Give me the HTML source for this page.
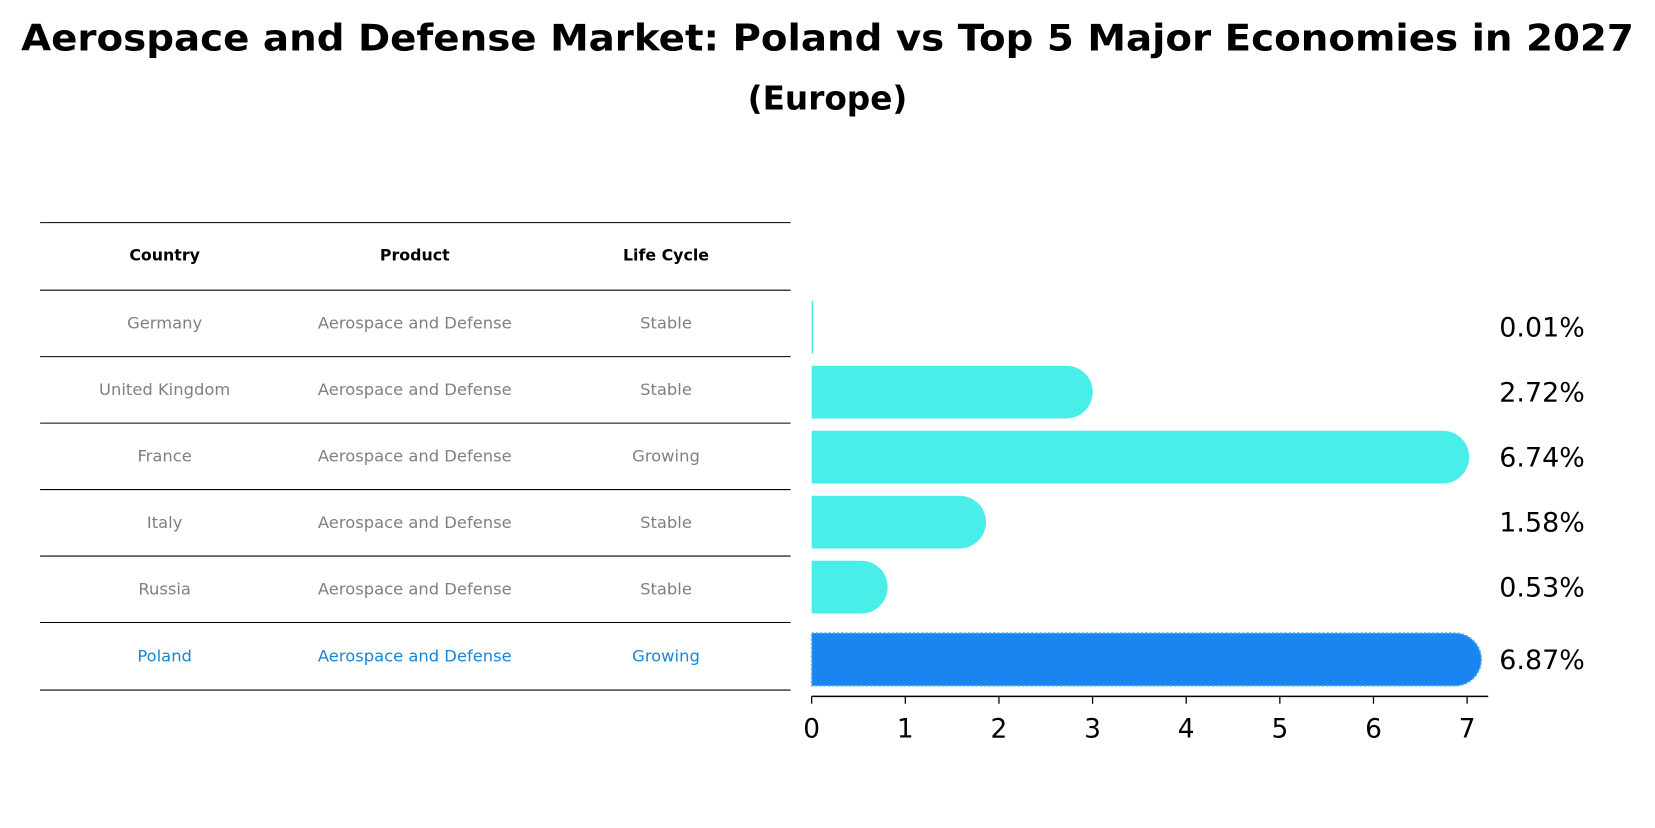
<!DOCTYPE html>
<html><head><meta charset="utf-8"><style>
body{margin:0;background:#fff;font-family:"Liberation Sans","DejaVu Sans",sans-serif;}
svg text{font-family:"DejaVu Sans","Liberation Sans",sans-serif;}
</style></head><body>
<svg id="c" width="1655" height="823" viewBox="0 0 1568 780" preserveAspectRatio="none" xmlns="http://www.w3.org/2000/svg">
<text x="784" y="48" text-anchor="middle" font-size="35" font-weight="bold" textLength="1528" lengthAdjust="spacingAndGlyphs">Aerospace and Defense Market: Poland vs Top 5 Major Economies in 2027</text>
<text x="784" y="104" text-anchor="middle" font-size="31" font-weight="bold">(Europe)</text>
<g id="table"></g>
<g id="bars"></g>
</svg>
<script>
const countries=["Germany","United Kingdom","France","Italy","Russia","Poland"];
const products=["Aerospace and Defense","Aerospace and Defense","Aerospace and Defense","Aerospace and Defense","Aerospace and Defense","Aerospace and Defense"];
const lifeCycles=["Stable","Stable","Growing","Stable","Stable","Growing"];
const values=[0.01,2.72,6.74,1.58,0.53,6.87];
const labels=["0.01%","2.72%","6.74%","1.58%","0.53%","6.87%"];
const ticks=[0,1,2,3,4,5,6,7];
const NS="http://www.w3.org/2000/svg";
function mk(t,a,p){const e=document.createElementNS(NS,t);for(const k in a)e.setAttribute(k,a[k]);p.appendChild(e);return e;}
const x=v=>769+v*(1390-769)/7;
const rowY=i=>310+i*61.6;
const tb=document.getElementById('table');
const lineYs=[211,275,338,401,464,527,590,654];
lineYs.forEach(y=>{const l=mk('line',{x1:38,x2:749,y1:y,y2:y,stroke:'#000','stroke-width':1},tb);

});
const colX=[156,393,631];
["Country","Product","Life Cycle"].forEach((h,j)=>{const t=mk('text',{x:colX[j],y:247,'text-anchor':'middle','font-size':15,'font-weight':'bold'},tb);t.textContent=h;

});
countries.forEach((c,i)=>{const y=(lineYs[i+1]+lineYs[i+2])/2+5;const col=i===5?'#1a85d8':'#808080';
[c,products[i],lifeCycles[i]].forEach((s,j)=>{const t=mk('text',{x:colX[j],y:y,'text-anchor':'middle','font-size':15.5,fill:col},tb);t.textContent=s;

});});
const bg=document.getElementById('bars');
const h=50,r=25;
values.forEach((v,i)=>{const cy=rowY(i)+(i===5?7:0);const x0=x(0),x1=x(v);const col=i===5?'#1a85f0':'#4aeee8';
const top=cy-h/2;
let d;
if(v<0.05){d=`M${x0},${top}h1.5v${h}h-1.5z`;}
else d=`M${x0},${top}H${x1}A${r},${r} 0 0 1 ${x1},${top+h}H${x0}Z`;
const p=mk('path',{d:d,fill:col},bg);
if(i===5){p.setAttribute('stroke','#5aaef0');p.setAttribute('stroke-dasharray','2,2');p.setAttribute('stroke-width','1.5');}


const t=mk('text',{x:1461,y:cy+9,'text-anchor':'middle','font-size':25.5},bg);t.textContent=labels[i];

});
const ax=mk('line',{x1:769,x2:1410,y1:660,y2:660,stroke:'#000','stroke-width':1.5},bg);


ticks.forEach(tk=>{const l=mk('line',{x1:x(tk),x2:x(tk),y1:660,y2:667,stroke:'#000','stroke-width':1.2},bg);


const t=mk('text',{x:x(tk),y:699,'text-anchor':'middle','font-size':25},bg);t.textContent=tk;

});
</script>
</body></html>
